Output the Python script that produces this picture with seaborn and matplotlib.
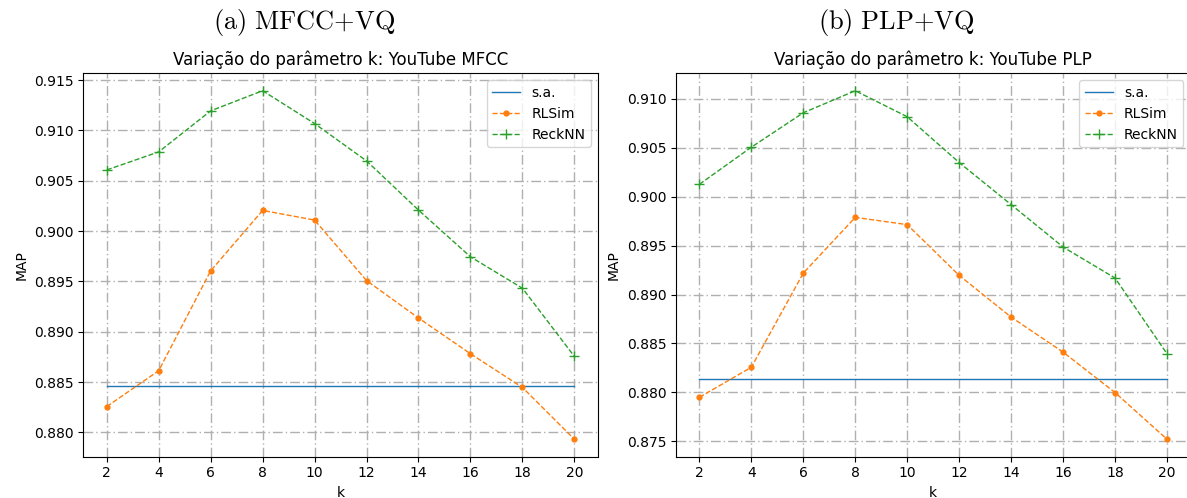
import matplotlib
matplotlib.use("Agg")
import matplotlib.pyplot as plt
import seaborn as sns

# ---- data ----
k_values = [2, 4, 6, 8, 10, 12, 14, 16, 18, 20]

sa_mfcc = 0.88465
rlsim_mfcc = [0.88256, 0.88612, 0.89604, 0.90205, 0.90109, 0.89508, 0.89136, 0.88781, 0.88446, 0.87931]
recknn_mfcc = [0.90607, 0.90786, 0.91194, 0.91394, 0.91068, 0.90697, 0.90208, 0.89744, 0.89432, 0.88754]

sa_plp = 0.88135
rlsim_plp = [0.87950, 0.88257, 0.89219, 0.89788, 0.89714, 0.89195, 0.88769, 0.88411, 0.87998, 0.87521]
recknn_plp = [0.90126, 0.90505, 0.90857, 0.91082, 0.90816, 0.90348, 0.89918, 0.89485, 0.89168, 0.88394]

panel_titles = [r"$\mathrm{(a)\ MFCC{+}VQ}$", r"$\mathrm{(b)\ PLP{+}VQ}$"]
axes_titles = ["Variação do parâmetro k: YouTube MFCC", "Variação do parâmetro k: YouTube PLP"]
series_labels = ["s.a.", "RLSim", "ReckNN"]

plt.rcParams["mathtext.fontset"] = "cm"
plt.rcParams["font.family"] = ["DejaVu Sans"]

fig = plt.figure(figsize=(11.87, 4.98), dpi=100)
ax_l = fig.add_axes([0.0702, 0.0829, 0.4334, 0.7699])
ax_r = fig.add_axes([0.5695, 0.0829, 0.4334, 0.7699])

grid_ls = (0, (7, 2.2, 1, 2.2))
c_sa, c_rl, c_rk = "#1f77b4", "#ff7f0e", "#2ca02c"

for ax, sa, rl, rk, ttl in [
    (ax_l, sa_mfcc, rlsim_mfcc, recknn_mfcc, axes_titles[0]),
    (ax_r, sa_plp, rlsim_plp, recknn_plp, axes_titles[1]),
]:
    sns.lineplot(x=k_values, y=[sa] * len(k_values), ax=ax, color=c_sa,
                 linewidth=1.0, label=series_labels[0])
    sns.lineplot(x=k_values, y=rl, ax=ax, color=c_rl, linestyle="--",
                 marker=".", markersize=7, markeredgewidth=1,
                 markeredgecolor=c_rl, markerfacecolor=c_rl, linewidth=1.0,
                 label=series_labels[1])
    sns.lineplot(x=k_values, y=rk, ax=ax, color=c_rk, linestyle="--",
                 marker="+", markersize=7, markeredgewidth=1,
                 markeredgecolor=c_rk, linewidth=1.0,
                 label=series_labels[2])
    ax.set_xticks(k_values)
    ax.set_xlabel("k")
    ax.set_ylabel("MAP")
    ax.set_title(ttl, fontsize=12)
    ax.grid(True, linestyle=grid_ls, color="#b0b0b0", linewidth=1.0)
    ax.set_axisbelow(True)
    ax.margins(x=0.05, y=0.05)
    ax.legend(loc="upper right")

fig.text(0.256, 0.954, panel_titles[0], fontsize=19, ha="center", va="center")
fig.text(0.755, 0.954, panel_titles[1], fontsize=19, ha="center", va="center")

fig.savefig("out.png", dpi=100)
